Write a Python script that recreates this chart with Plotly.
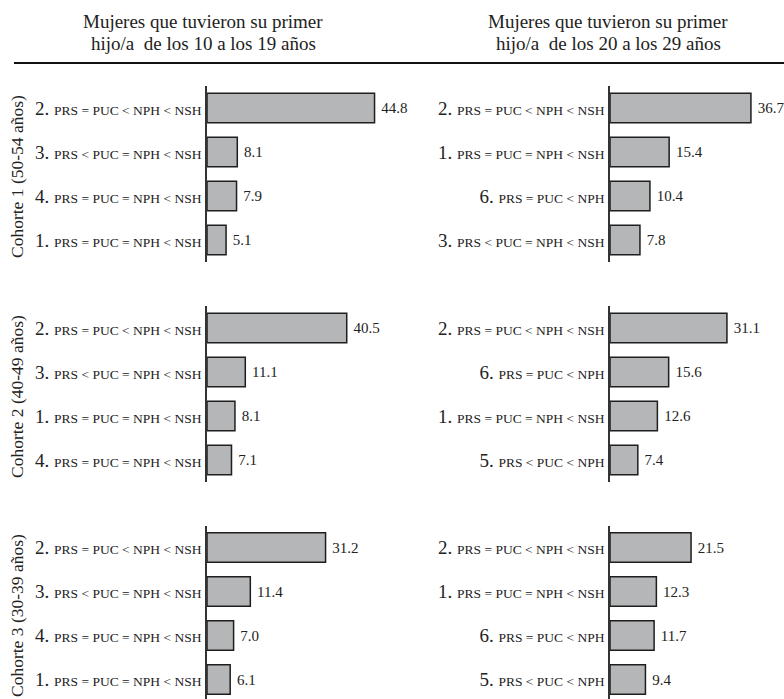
import plotly.graph_objects as go

W, H = 784, 699

title_left = ["Mujeres que tuvieron su primer", "hijo/a\u00a0 de los 10 a los 19 años"]
title_right = ["Mujeres que tuvieron su primer", "hijo/a\u00a0 de los 20 a los 29 años"]
cohorts = ["Cohorte 1 (50-54 años)", "Cohorte 2 (40-49 años)", "Cohorte 3 (30-39 años)"]

c1_left_labels = ["2. PRS = PUC < NPH < NSH", "3. PRS < PUC = NPH < NSH", "4. PRS = PUC = NPH < NSH", "1. PRS = PUC = NPH < NSH"]
c1_left_values = [44.8, 8.1, 7.9, 5.1]
c1_right_labels = ["2. PRS = PUC < NPH < NSH", "1. PRS = PUC = NPH < NSH", "6. PRS = PUC < NPH", "3. PRS < PUC = NPH < NSH"]
c1_right_values = [36.7, 15.4, 10.4, 7.8]

c2_left_labels = ["2. PRS = PUC < NPH < NSH", "3. PRS < PUC = NPH < NSH", "1. PRS = PUC = NPH < NSH", "4. PRS = PUC = NPH < NSH"]
c2_left_values = [40.5, 11.1, 8.1, 7.1]
c2_right_labels = ["2. PRS = PUC < NPH < NSH", "6. PRS = PUC < NPH", "1. PRS = PUC = NPH < NSH", "5. PRS < PUC < NPH"]
c2_right_values = [31.1, 15.6, 12.6, 7.4]

c3_left_labels = ["2. PRS = PUC < NPH < NSH", "3. PRS < PUC = NPH < NSH", "4. PRS = PUC = NPH < NSH", "1. PRS = PUC = NPH < NSH"]
c3_left_values = [31.2, 11.4, 7.0, 6.1]
c3_right_labels = ["2. PRS = PUC < NPH < NSH", "1. PRS = PUC = NPH < NSH", "6. PRS = PUC < NPH", "5. PRS < PUC < NPH"]
c3_right_values = [21.5, 12.3, 11.7, 9.4]

panels = [
    (c1_left_labels, c1_left_values, 0, 0),
    (c1_right_labels, c1_right_values, 0, 1),
    (c2_left_labels, c2_left_values, 1, 0),
    (c2_right_labels, c2_right_values, 1, 1),
    (c3_left_labels, c3_left_values, 2, 0),
    (c3_right_labels, c3_right_values, 2, 1),
]

FONT = "Liberation Serif, Times New Roman, serif"
TXT = "#222222"

# layout geometry (pixels)
row_px = [(86, 262), (306, 482), (525.5, 699)]
col_px = [(207, 395), (610, 784)]
px_per_unit = [[3.74, 3.84], [3.45, 3.76], [3.80, 3.77]]
cat_px = 44.0


def fmt_label(s):
    num, rest = s.split(". ", 1)
    rest = rest.replace("<", "&lt;")
    return f'{num}. <span style="font-size:13.5px">{rest}</span>'


fig = go.Figure()
layout_axes = {}
for i, (labels, values, r, c) in enumerate(panels):
    k = i + 1
    xa = "x" if k == 1 else f"x{k}"
    ya = "y" if k == 1 else f"y{k}"
    fig.add_trace(go.Bar(
        x=values, y=labels, orientation="h",
        xaxis=xa, yaxis=ya,
        marker=dict(color="#b4b6b7", line=dict(color="#1e1e1e", width=1.5)),
        texttemplate="\u00a0%{x:.1f}", textposition="outside",
        textfont=dict(family=FONT, size=15, color=TXT),
        cliponaxis=False, showlegend=False, hoverinfo="skip",
    ))
    x0, x1 = col_px[c]
    y0, y1 = row_px[r]
    xmax = (x1 - x0) / px_per_unit[r][c]
    ybot = -0.5 + (y1 - y0) / cat_px
    xkey = "xaxis" if k == 1 else f"xaxis{k}"
    ykey = "yaxis" if k == 1 else f"yaxis{k}"
    layout_axes[xkey] = dict(
        domain=[x0 / W, min(x1 / W, 1.0)], range=[0, xmax], anchor=ya,
        visible=False, fixedrange=True,
    )
    layout_axes[ykey] = dict(
        domain=[1 - y1 / H, 1 - y0 / H], anchor=xa, type="category",
        range=[ybot, -0.5], showline=True, linecolor="#333333", linewidth=1.5,
        showgrid=False, zeroline=False, ticks="", automargin=False,
        tickmode="array", tickvals=labels, ticktext=[fmt_label(s) for s in labels],
        tickfont=dict(family=FONT, size=19, color=TXT), ticklabelstandoff=0,
        fixedrange=True,
    )

annotations = []
for cx, lines in ((203, title_left), (608, title_right)):
    for j, (txt, yc) in enumerate(zip(lines, (21, 43))):
        annotations.append(dict(
            x=cx / W, y=1 - yc / H, xref="paper", yref="paper",
            text=txt, showarrow=False, xanchor="center", yanchor="middle",
            font=dict(family=FONT, size=19, color=TXT),
        ))
for txt, yc in zip(cohorts, (177, 397, 616)):
    annotations.append(dict(
        x=17 / W, y=1 - yc / H, xref="paper", yref="paper",
        text=txt, showarrow=False, textangle=-90, xanchor="center", yanchor="middle",
        font=dict(family=FONT, size=17.5, color=TXT),
    ))

fig.update_layout(
    width=W, height=H, margin=dict(l=0, r=0, t=0, b=0),
    paper_bgcolor="white", plot_bgcolor="white",
    bargap=0.33, annotations=annotations,
    shapes=[dict(type="line", xref="paper", yref="paper",
                 x0=14 / W, x1=1, y0=1 - 63 / H, y1=1 - 63 / H,
                 line=dict(color="#111111", width=2))],
    **layout_axes,
)

fig.write_html(
    "out.html",
    config={"displayModeBar": False, "staticPlot": False},
    post_script="document.body.style.margin='0px';document.body.style.overflow='hidden';",
)
